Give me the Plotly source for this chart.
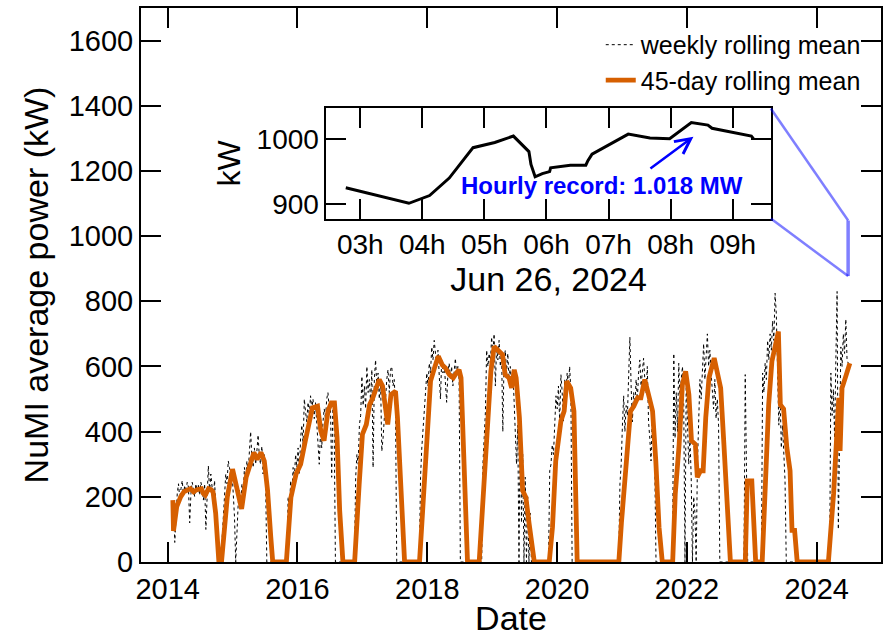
import pandas as pd
import plotly.graph_objects as go

FONT = "Liberation Sans, Arial, Helvetica, sans-serif"

# ---------------- weekly rolling mean (kW): one value every 7 days from each run start
week_starts = ["2014-01-27", "2014-10-27", "2015-11-03", "2016-11-17", "2017-11-17",
               "2018-11-03", "2019-11-14", "2020-12-13", "2021-10-12", "2022-11-18",
               "2023-02-24", "2024-03-14"]
week_2014 = [110, 180, 60, 150, 210, 240, 195, 225, 250, 205, 235, 215, 245, 230, 120, 210, 245, 225,
             200, 240, 215, 235, 205, 245, 225, 190, 240, 100, 200, 295, 215, 270, 230, 200, 250, 180, 90, 0]
week_2015 = [0, 60, 150, 210, 270, 240, 310, 290, 260, 280, 210, 140, 0, 120, 180, 220, 170, 240, 205,
             290, 250, 310, 270, 340, 400, 320, 290, 350, 300, 340, 390, 320, 300, 355, 270, 330, 250, 0]
week_2016 = [0, 200, 150, 250, 210, 290, 260, 330, 290, 350, 270, 380, 420, 360, 500, 460, 430, 490, 450,
             510, 470, 500, 440, 490, 420, 380, 300, 400, 350, 430, 470, 440, 500, 520, 470, 480, 260, 490, 420, 0]
week_2017 = [0, 260, 330, 300, 420, 450, 570, 480, 540, 470, 600, 520, 560, 490, 590, 290, 560, 620, 540,
             580, 500, 560, 340, 380, 450, 510, 560, 590, 520, 590, 600, 540, 560, 480, 0]
week_2018 = [0, 260, 350, 420, 470, 520, 580, 540, 610, 580, 660, 620, 680, 640, 600, 650, 560, 500, 620,
             580, 610, 540, 490, 580, 610, 560, 600, 540, 590, 625, 570, 600, 560, 0]
week_2019 = [0, 300, 380, 460, 650, 600, 640, 610, 690, 640, 700, 540, 660, 620, 680, 600, 640, 400, 620,
             650, 580, 640, 560, 600, 540, 590, 500, 420, 300, 420, 0, 460, 120, 330, 0, 260, 0, 200, 0, 150, 0]
week_2020 = [0, 280, 300, 360, 330, 420, 510, 470, 540, 430, 575, 520, 430, 560, 510, 580, 540, 600, 520, 0]
week_2021 = [0, 240, 300, 420, 510, 400, 480, 450, 560, 690, 540, 430, 520, 480, 560, 500, 580, 620, 540,
             600, 625, 560, 520, 600, 430, 380, 310, 450, 380, 300, 0]
week_2022 = [0, 640, 380, 520, 400, 610, 500, 560, 600, 480, 0, 560, 420, 300, 380, 260, 0, 200, 150, 0,
             300, 420, 560, 500, 620, 670, 560, 640, 700, 600, 650, 580, 520, 470, 560, 440, 500, 420, 0]
week_2022b = [0, 575, 350, 0]
week_2023 = [0, 580, 520, 610, 560, 680, 620, 700, 650, 740, 680, 825, 760, 600, 420, 520, 350, 420, 340, 250, 0]
week_2024 = [0, 580, 450, 530, 380, 620, 830, 100, 480, 660, 600, 700, 640, 745, 620, 610]
week_runs = [week_2014, week_2015, week_2016, week_2017, week_2018, week_2019, week_2020,
             week_2021, week_2022, week_2022b, week_2023, week_2024]

# ---------------- 45-day rolling mean (kW) at decimal-year dates
roll45_year = [2014.08, 2014.09, 2014.14, 2014.20, 2014.25, 2014.35, 2014.40, 2014.45, 2014.52, 2014.55, 2014.58,
               2014.63, 2014.67, 2014.70, 2014.74, 2014.79,
               2014.83, 2014.92, 2015.00, 2015.04, 2015.11, 2015.14, 2015.21, 2015.29, 2015.33, 2015.38, 2015.44,
               2015.49, 2015.54, 2015.59, 2015.62,
               2015.83, 2015.90, 2015.98, 2016.05, 2016.12, 2016.18, 2016.23, 2016.31, 2016.36, 2016.41, 2016.47,
               2016.52, 2016.57, 2016.61, 2016.65, 2016.70,
               2016.88, 2016.95, 2017.00, 2017.06, 2017.11, 2017.16, 2017.21, 2017.26, 2017.31, 2017.35, 2017.39,
               2017.44, 2017.51, 2017.54, 2017.60, 2017.65,
               2017.88, 2017.93, 2018.00, 2018.05, 2018.11, 2018.17, 2018.23, 2018.28, 2018.34, 2018.40, 2018.45,
               2018.49, 2018.52, 2018.57, 2018.62,
               2018.80, 2018.90, 2018.98, 2019.03, 2019.11, 2019.16, 2019.20, 2019.26, 2019.30, 2019.34, 2019.37,
               2019.42, 2019.47, 2019.52, 2019.57, 2019.62, 2019.65,
               2019.88, 2019.93, 2019.98, 2020.06, 2020.11, 2020.15, 2020.21, 2020.26, 2020.31,
               2020.95, 2020.99, 2021.03, 2021.08, 2021.13, 2021.18, 2021.24, 2021.29, 2021.35, 2021.42, 2021.47,
               2021.52, 2021.57, 2021.62,
               2021.78, 2021.82, 2021.88, 2021.93, 2021.98, 2022.03, 2022.07, 2022.13, 2022.16, 2022.21, 2022.25,
               2022.29, 2022.34, 2022.42, 2022.47, 2022.52, 2022.57, 2022.62, 2022.67,
               2022.90, 2022.93, 2023.00, 2023.06,
               2023.16, 2023.21, 2023.26, 2023.31, 2023.37, 2023.41, 2023.44, 2023.49, 2023.54, 2023.59, 2023.62,
               2023.66, 2023.70,
               2024.18, 2024.26, 2024.34, 2024.36, 2024.39, 2024.44, 2024.49, 2024.51]
roll45_kw = [190, 95, 170, 200, 215, 225, 215, 222, 225, 210, 205,
             225, 222, 215, 150, 0,
             0, 200, 285, 250, 178, 163, 260, 320, 336, 315, 336,
             310, 220, 76, 0,
             0, 198, 270, 300, 370, 422, 473, 478, 402, 372, 463,
             488, 488, 382, 158, 0,
             0, 239, 392, 422, 483, 504, 534, 560, 540, 470, 422,
             514, 524, 443, 209, 0,
             0, 158, 433, 555, 595, 631, 605, 595, 575, 565, 580,
             590, 565, 260, 0,
             0, 300, 585, 661, 646, 636, 575, 565, 534, 590, 565,
             443, 219, 198, 117, 56, 0,
             0, 107, 310, 433, 463, 555, 534, 463, 0,
             0, 120, 230, 331, 463, 478, 504, 504, 560, 504, 463,
             310, 107, 0,
             0, 209, 361, 544, 585, 514, 372, 361, 260, 280, 280,
             443, 565, 626, 585, 534, 361, 158, 0,
             0, 249, 249, 0,
             0, 260, 483, 616, 666, 707, 483, 470, 351, 280, 97,
             97, 0,
             0, 209, 504, 341, 534, 565, 605, 610]

# ---------------- inset: Jun 26, 2024
inset_day = "2024-06-26"
inset_time = ["02:46", "03:47", "04:07", "04:26", "04:49", "05:10", "05:28", "05:43", "05:45", "05:49",
              "05:56", "06:03", "06:04", "06:23", "06:38", "06:40", "06:44", "07:19", "07:40", "07:59",
              "08:20", "08:27", "08:36", "08:40", "09:01", "09:18", "09:20"]
inset_kw = [925, 901, 913, 940, 987, 995, 1005, 981, 961, 942,
            947, 950, 956, 960, 960, 967, 977, 1008, 1002, 1001,
            1026, 1024, 1022, 1017, 1011, 1005, 1001]
inset_xrange = ["2024-06-26 02:27:22", "2024-06-26 09:36:47"]
inset_yrange = [877.4, 1047.7]

year_ticks = [2014, 2016, 2018, 2020, 2022, 2024]
main_xrange = ["2013-08-04", "2024-12-28"]
main_yrange = [0, 1700]


def dec_to_date(y):
    yr = int(y)
    start = pd.Timestamp(yr, 1, 1)
    end = pd.Timestamp(yr + 1, 1, 1)
    return start + (end - start) * (y - yr)


wx, wy = [], []
for s, vals in zip(week_starts, week_runs):
    wx += list(pd.date_range(s, periods=len(vals), freq="7D"))
    wy += vals

ox = [dec_to_date(y) for y in roll45_year]
ix = [f"{inset_day} {t}" for t in inset_time]

ORANGE = "#d65f00"
BLUE_T = "rgba(0,0,255,0.5)"

fig = go.Figure()
fig.add_trace(go.Scatter(x=wx, y=wy, mode="lines", name="weekly rolling mean",
                         line=dict(color="black", width=1, dash="dot"), legendgroup="a"))
fig.add_trace(go.Scatter(x=ox, y=roll45_kw, mode="lines", name="45-day rolling mean",
                         line=dict(color=ORANGE, width=4.8), legendgroup="b"))
fig.add_trace(go.Scatter(x=ix, y=inset_kw, mode="lines", xaxis="x2", yaxis="y2", showlegend=False,
                         line=dict(color="black", width=3)))

axis_common = dict(showgrid=False, zeroline=False, showline=True, linecolor="black", linewidth=2,
                   mirror="ticks", ticks="inside", ticklen=20, tickwidth=2, tickcolor="black")

W, H = 883, 637
ML, MR, MT, MB = 141, 0, 8, 72
pw, ph = W - ML - MR, H - MT - MB
# inset frame in pixels -> paper domain
inset_dom_x = [(327 - ML) / pw, (772.5 - ML) / pw]
inset_dom_y = [(H - MB - 219.7) / ph, (H - MB - 109) / ph]

fig.update_layout(
    width=W, height=H, margin=dict(l=ML, r=MR, t=MT, b=MB),
    paper_bgcolor="white", plot_bgcolor="white",
    font=dict(family=FONT, color="black"),
    xaxis=dict(axis_common, type="date", range=main_xrange,
               tickvals=[f"{y}-01-01" for y in year_ticks], ticktext=[str(y) for y in year_ticks],
               tickfont=dict(size=29), title=dict(text="Date", font=dict(size=34), standoff=8)),
    yaxis=dict(axis_common, range=main_yrange, dtick=200, tick0=0,
               tickfont=dict(size=29), title=dict(text="NuMI average power (kW)", font=dict(size=34), standoff=10)),
    xaxis2=dict(axis_common, type="date", domain=inset_dom_x, anchor="y2", range=inset_xrange,
                dtick=3600000, tick0=f"{inset_day} 03:00", tickformat="%Hh", tickfont=dict(size=28),
                title=dict(text="Jun 26, 2024", font=dict(size=34), standoff=4)),
    yaxis2=dict(axis_common, domain=inset_dom_y, anchor="x2", range=inset_yrange, dtick=100, tick0=0,
                tickfont=dict(size=28), title=dict(text="kW", font=dict(size=32), standoff=6)),
    legend=dict(x=(602 - ML) / pw, xanchor="left", y=(H - MB - 22) / ph, yanchor="top",
                bgcolor="rgba(0,0,0,0)", font=dict(size=25), tracegroupgap=0, itemwidth=30),
    showlegend=True,
)

# zoom connector: vertical bar at the inset day spanning the inset y-range, lines to inset corners
x0d, x1d = pd.Timestamp(main_xrange[0]), pd.Timestamp(main_xrange[1])
bar_xp = (pd.Timestamp(inset_day) - x0d) / (x1d - x0d)
bar_y_lo = inset_yrange[0] / main_yrange[1]
bar_y_hi = inset_yrange[1] / main_yrange[1]
fig.add_shape(type="line", xref="x", yref="y", x0=inset_day, x1=inset_day,
              y0=inset_yrange[0], y1=inset_yrange[1], line=dict(color=BLUE_T, width=3.5))
fig.add_shape(type="line", xref="paper", yref="paper", x0=inset_dom_x[1], y0=inset_dom_y[1],
              x1=bar_xp, y1=bar_y_hi, line=dict(color=BLUE_T, width=2.5))
fig.add_shape(type="line", xref="paper", yref="paper", x0=inset_dom_x[1], y0=inset_dom_y[0],
              x1=bar_xp, y1=bar_y_lo, line=dict(color=BLUE_T, width=2.5))

fig.add_annotation(x=f"{inset_day} 08:22", y=1004, ax=f"{inset_day} 07:39", ay=953,
                   xref="x2", yref="y2", axref="x2", ayref="y2", text="", showarrow=True,
                   arrowhead=5, arrowsize=1.2, arrowwidth=2.5, arrowcolor="blue")
fig.add_annotation(x=f"{inset_day} 06:54", y=929, xref="x2", yref="y2", showarrow=False,
                   text="<b>Hourly record: 1.018 MW</b>", font=dict(size=24, color="blue"))

fig.write_html("out.html")
